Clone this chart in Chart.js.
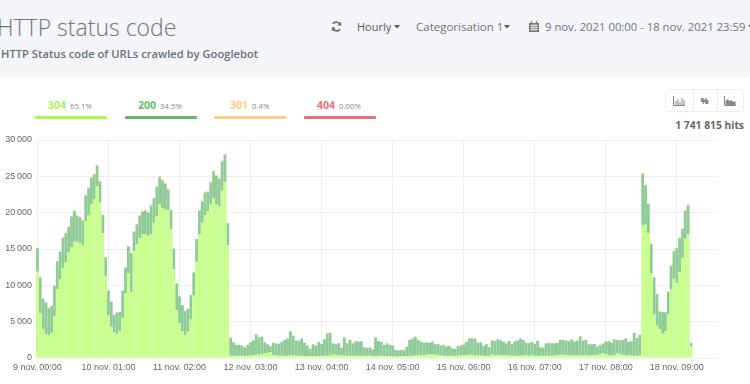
<!DOCTYPE html>
<html><head><meta charset="utf-8">
<script src="https://cdn.jsdelivr.net/npm/chart.js@4"></script>
<style>
html,body{margin:0;padding:0;background:#fff;width:750px;height:384px;overflow:hidden;font-family:"Open Sans",sans-serif;color:#6a6f78}
.abs{position:absolute;white-space:nowrap}
#head{position:absolute;left:0;top:0;width:750px;height:77px;background:#f3f5f9}
.lg{position:absolute;top:98px;font-size:10.5px;font-weight:700;white-space:nowrap;line-height:14px}
.lg small{font-size:7.8px;font-weight:400;color:#8a8a8a;margin-left:4px}
.bar{position:absolute;top:116px;height:2.5px;width:72px;border-radius:1px}
#c{position:absolute;left:0;top:130px}
#btns{position:absolute;left:665px;top:89px;width:79px;height:23px;border:1px solid #eceef1;border-radius:3px;box-sizing:border-box}
#btns i{position:absolute;top:0;bottom:0;width:1px;background:#eceef1}
svg{position:absolute}
</style></head><body>
<div id="head"></div>
<div class="abs" style="left:-3px;top:9px;font-size:23px;font-weight:300;color:#6f747c;line-height:36px">HTTP status code</div>
<div class="abs" style="left:1px;top:45px;font-size:11.2px;font-weight:600;color:#6a6f78;line-height:18px">HTTP Status code of URLs crawled by Googlebot</div>
<svg style="left:331px;top:21px" width="11" height="11" viewBox="0 0 12 12"><path d="M10.5 4.5A5 5 0 0 0 2 3M1.5 7.5A5 5 0 0 0 10 9" fill="none" stroke="#666" stroke-width="1.8"/><path d="M11 .8V5H7zM1 11.2V7h4z" fill="#666"/></svg>
<div class="abs" style="left:357px;top:18px;font-size:11px;font-weight:500;color:#555a62;line-height:18px">Hourly</div>
<svg style="left:393.5px;top:25px" width="6" height="4"><path d="M0 0h6L3 3.5z" fill="#555"/></svg>
<div class="abs" style="left:416px;top:18px;font-size:11.5px;color:#6f747c;line-height:18px">Categorisation 1</div>
<svg style="left:504px;top:25px" width="6" height="4"><path d="M0 0h6L3 3.5z" fill="#555"/></svg>
<svg style="left:529px;top:21px" width="10" height="11"><path d="M0 2h10v9H0z" fill="#777"/><path d="M1 4.5h8M1 6.5h8M1 8.5h8M3 3v7M5 3v7M7 3v7" stroke="#f3f5f9" stroke-width=".7"/><path d="M2.5 0v3M7.5 0v3" stroke="#777" stroke-width="1.2"/></svg>
<div class="abs" style="left:545px;top:18px;font-size:11.3px;color:#6f747c;line-height:18px">9 nov. 2021 00:00 - 18 nov. 2021 23:59</div>
<svg style="left:748px;top:25px" width="6" height="4"><path d="M0 0h6L3 3.5z" fill="#555"/></svg>

<div class="lg" style="left:48px;color:#a9f25a">304<small>65.1%</small></div>
<div class="lg" style="left:138px;color:#66bb6a">200<small>34.5%</small></div>
<div class="lg" style="left:230px;color:#ffcc80">301<small>0.4%</small></div>
<div class="lg" style="left:317px;color:#e57373">404<small>0.00%</small></div>
<div class="bar" style="left:34.5px;background:#a5f950"></div>
<div class="bar" style="left:124.5px;background:#66b96a"></div>
<div class="bar" style="left:214px;background:#ffcc80"></div>
<div class="bar" style="left:304px;background:#e57373"></div>

<div id="btns"><i style="left:27px"></i><i style="left:51px"></i></div>
<svg style="left:673px;top:96px" width="12" height="10"><path d="M.5 0v9.5H12" fill="none" stroke="#888"/><path d="M2.5 5h1v4h-1zM4.5 3h1v6h-1zM6.5 6h1v3h-1zM8.5 2h1v7h-1zM10.5 4h1v5h-1z" fill="#888"/></svg>
<div class="abs" style="left:700.5px;top:93px;font-size:9px;font-weight:700;color:#666;line-height:16px">%</div>
<svg style="left:724px;top:96px" width="12" height="10"><path d="M.5 0v9.5H12" fill="none" stroke="#888"/><path d="M1.5 9V5l2-2 2 2 2-1 2 2 2-1v4z" fill="#888"/></svg>
<div class="abs" style="right:6px;top:116px;font-size:10.3px;font-weight:700;color:#666;line-height:18px">1 741 815 hits</div>
<canvas id="c" width="750" height="254"></canvas>
<script>
const days = ['9 nov.','10 nov.','11 nov.','12 nov.','13 nov.','14 nov.','15 nov.','16 nov.','17 nov.','18 nov.'];
const hours = ['00:00','01:00','02:00','03:00','04:00','05:00','06:00','07:00','08:00','09:00','10:00','11:00','12:00','13:00','14:00','15:00','16:00','17:00','18:00','19:00','20:00','21:00','22:00','23:00'];
const categories = days.flatMap(d => hours.map(h => d + ' ' + h));
const tickStep = 25;
const yTicks = [0,5000,10000,15000,20000,25000,30000];
const s304 = [
11900,6200,4000,3300,3100,3400,5800,9500,10800,12400,13200,14500,15200,16000,16000,15800,15500,18800,19600,21200,21800,23600,21400,17200,
11300,5900,4300,3500,3300,3700,5500,8900,11700,9000,14700,15600,16500,17000,17000,16800,17000,18600,19500,21200,20600,20400,20300,17700,
12200,6600,4800,3700,3100,3600,5300,8600,13200,17000,18600,19600,20200,21100,22000,21100,20900,23000,24200,15500,
300,300,300,300,300,250,300,350,400,450,450,550,650,650,800,350,350,300,300,300,300,350,350,300,300,300,250,250,250,250,250,250,300,300,300,350,
450,450,400,350,300,300,300,300,300,300,300,300,300,300,250,250,300,300,250,250,250,200,200,200,200,200,250,300,300,350,400,400,400,450,500,500,
450,400,350,300,300,300,300,250,300,350,350,400,450,450,400,350,350,300,300,300,450,400,400,400,350,350,350,300,300,300,300,350,350,300,350,300,
300,300,300,300,300,300,350,400,450,450,400,400,350,350,350,350,350,350,300,350,350,350,500,650,550,400,350,400,650,500,450,400,350,350,300,300,350,
18250,18350,17200,11600,6000,4450,3900,3350,3670,6000,9400,10900,10300,11800,13700,16400,17000,1600];
const s200 = [
3200,4900,4150,4350,3750,3750,4130,3820,3850,4150,3950,3550,4250,4250,3550,3550,3450,3550,3750,3550,3450,2850,2850,2450,
2550,3350,3450,2450,2950,2650,3750,3550,3650,5450,2650,2750,3050,3150,3250,3150,3950,3350,4050,3650,3850,3550,2850,2650,
2850,3650,3650,3550,3350,3150,3350,3150,3150,3250,2950,3150,2650,3050,3650,3950,3750,4050,3750,3050,
2500,1850,1500,1530,1400,1220,1500,1800,2030,2800,2400,2400,1500,1230,820,1750,1620,1670,1900,2180,2360,3320,2720,2130,2090,2400,1850,1450,1030,1630,1450,1950,1630,2300,3050,3140,
1570,1430,1660,1070,2500,1720,2220,1720,2000,1950,2000,1170,1120,1130,940,2590,2040,1900,1550,1770,1580,1540,900,850,900,900,1310,2180,2360,2600,2080,1850,1700,1700,1600,1750,
1450,1500,1350,1500,1300,1350,1030,990,1350,1390,1480,1800,2250,2250,2260,1750,1800,1350,1580,1170,1980,1940,2170,2080,1900,1670,1990,1630,2000,2090,2360,2130,1750,1760,1850,1630,
2040,1170,1120,1720,1800,1720,1670,1660,2050,2050,1990,1940,2220,1900,2040,2630,2040,2130,1580,1530,1580,1210,1280,1330,1700,1940,1750,2170,1830,1930,2030,2300,1850,1950,3140,2450,2850,
7100,5400,4000,4100,5100,4350,2500,2950,2630,3100,3300,3800,4800,4700,4050,3900,4000,450];
const s301 = [
70,50,40,40,30,30,40,60,70,80,80,90,90,100,90,90,90,110,110,120,120,130,120,90,
70,40,30,30,30,30,40,60,70,60,90,100,100,110,110,100,110,110,120,130,120,120,110,90,
70,40,30,30,30,30,40,60,80,100,110,120,120,130,130,120,120,140,150,90,
10,8,6,6,6,5,6,8,9,12,10,8,7,5,8,7,7,8,9,10,13,11,9,8,10,7,6,4,7,6,8,7,9,12,12,7,7,7,5,10,7,9,7,8,8,8,5,5,5,4,10,8,8,6,7,6,6,4,4,4,4,5,9,10,10,9,8,7,8,7,8,7,
7,7,6,6,6,6,5,4,6,6,6,8,9,9,9,7,8,6,7,5,8,8,9,9,8,7,8,7,8,8,9,9,7,7,8,7,8,5,5,7,7,7,7,7,9,9,8,8,9,8,8,10,8,9,7,7,7,5,6,7,8,8,7,9,9,8,8,9,8,8,12,10,11,
90,80,70,50,30,20,20,20,20,30,50,60,60,70,80,100,100,8];
const s404 = [1,0,0,0,0,0,0,1,0,0,0,0,1,0,0,0,0,1,0,0,1,0,0,0];

const fmt = v => String(v).replace(/\B(?=(\d{3})+$)/g, '\u2009');
const axisFont = {family:'"Liberation Sans"',size:9};
new Chart(document.getElementById('c'), {
  type: 'bar',
  data: { labels: categories, datasets: [
    {label:'304', data:s304, backgroundColor:'#c8ff8c'},
    {label:'200', data:s200, backgroundColor:'#8fcb96'},
    {label:'301', data:s301, backgroundColor:'#ffcc80'},
    {label:'404', data:s404, backgroundColor:'#e57373'}
  ]},
  options: {
    responsive:false, animation:false,
    layout:{padding:{top:10,right:32,left:0,bottom:0}},
    plugins:{legend:{display:false},tooltip:{enabled:false}},
    datasets:{bar:{categoryPercentage:1,barPercentage:0.98,borderWidth:0}},
    scales:{
      x:{stacked:true,
        afterBuildTicks:s=>{s.ticks=s.ticks.filter(t=>t.value%tickStep===0);},
        afterFit:s=>{s.height=26;},
        border:{display:false},
        grid:{color:'#eeeeee',offset:false,drawTicks:false,tickLength:0},
        ticks:{autoSkip:false,maxRotation:0,minRotation:0,padding:4,color:'#666',font:axisFont}
      },
      y:{stacked:true,min:0,max:30000,
        afterBuildTicks:s=>{s.ticks=yTicks.map(v=>({value:v}));},
        afterFit:s=>{s.width=36;},
        border:{display:false},
        grid:{color:'#eeeeee',drawTicks:false},
        ticks:{padding:4,color:'#666',font:axisFont,callback:v=>fmt(v)}
      }
    }
  }
});
</script>
</body></html>
